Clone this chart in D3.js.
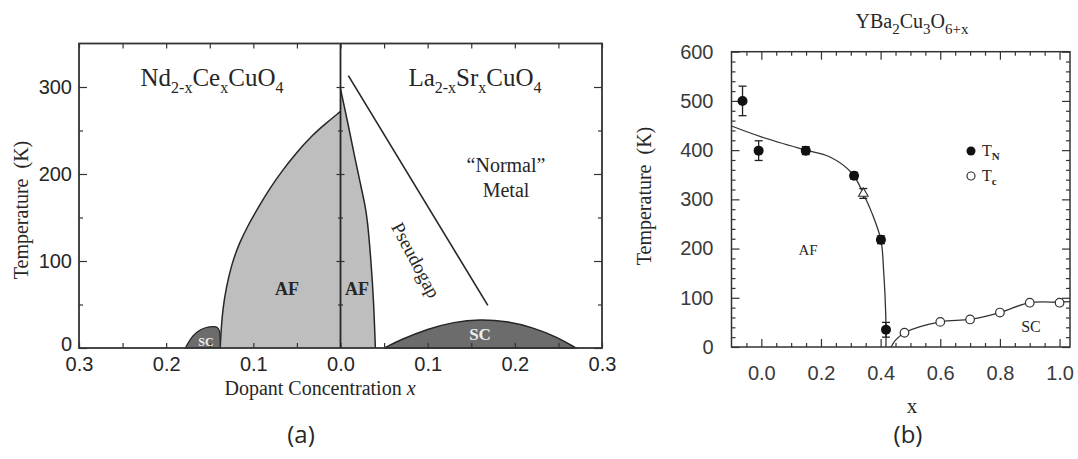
<!DOCTYPE html>
<html>
<head>
<meta charset="utf-8">
<script src="https://cdn.jsdelivr.net/npm/d3@7"></script>
<style>
	body { margin: 0; background: #fff; }
	svg { display: block; }
	.serif { font-family: "Liberation Serif", "DejaVu Serif", serif; }
	.sans { font-family: "Liberation Sans", "DejaVu Sans", sans-serif; }
	.tick line { stroke: #333; stroke-width: 1.2; }
</style>
</head>
<body>
<script>
// ---- Panel (a): phase boundaries (concentration x, temperature K) ----
const ndAfConc = [0.138, 0.137, 0.135, 0.131, 0.125, 0.116, 0.105, 0.093, 0.080, 0.066, 0.050, 0.034, 0.017, 0.0];
const ndAfTemp = [0, 21, 45, 70, 96, 121, 143, 164, 185, 205, 225, 243, 258, 272];
const ndScConc = [0.178, 0.172, 0.165, 0.155, 0.145, 0.138, 0.138];
const ndScTemp = [0, 11, 19, 24, 25, 24, 0];
const laAfConc = [0.0, 0.009, 0.017, 0.023, 0.028, 0.031, 0.035, 0.038, 0.040];
const laAfTemp = [298, 256, 216, 188, 165, 147, 100, 55, 0];
const laScConc = [0.05, 0.07, 0.10, 0.13, 0.16, 0.19, 0.22, 0.25, 0.27];
const laScTemp = [0, 10, 22, 30, 33, 31, 24, 12, 0];
const pseudoConc = [0.009, 0.169];
const pseudoTemp = [313, 49];
const aXTicks = [-0.3, -0.2, -0.1, 0, 0.1, 0.2, 0.3];
const aXMinor = [-0.25, -0.15, -0.05, 0.05, 0.15, 0.25];
const aYTicks = [0, 100, 200, 300];
const aYMinor = [50, 150, 250];

// ---- Panel (b): YBa2Cu3O6+x ----
const tnX = [-0.063, -0.009, 0.149, 0.311, 0.401, 0.418];
const tnT = [500, 399, 399, 348, 218, 35];
const tnErr = [30, 20, 8, 7, 8, 15];
const triX = [0.342];
const triT = [312];
const triErr = [10];
const tcX = [0.48, 0.6, 0.7, 0.8, 0.9, 1.0];
const tcT = [29, 51, 56, 70, 90, 90];
const tnLineX = [-0.1, 0.0, 0.15, 0.227, 0.304, 0.344, 0.371, 0.401, 0.41, 0.417, 0.418];
const tnLineT = [449, 427, 400, 387, 353, 309, 272, 217, 156, 69, 0];
const tcLineX = [0.435, 0.45, 0.48, 0.6, 0.7, 0.8, 0.9, 1.0, 1.035];
const tcLineT = [0, 14, 29, 51, 56, 70, 90, 91, 92];
const bXTicks = [0, 0.2, 0.4, 0.6, 0.8, 1.0];
const bYTicks = [0, 100, 200, 300, 400, 500, 600];

const W = 1078, H = 459;
const AF_FILL = '#bebebe', SC_FILL = '#6c6c6c', INK = '#262626';

const svg = d3.select('body').append('svg').attr('width', W).attr('height', H);

const zip = (xs, ys) => xs.map((x, i) => [x, ys[i]]);

// inward ticks, no labels
function tickAxis(g, axisFn, scale, values, size) {
	g.call(axisFn(scale).tickValues(values).tickSize(-size).tickFormat(''));
	g.select('.domain').remove();
	return g;
}

// formula text with subscripts: parts = [[text, isSub], ...]
function formula(parent, x, y, parts, size, subSize, shift) {
	const t = parent.append('text').attr('class', 'serif').attr('x', x).attr('y', y)
		.attr('text-anchor', 'middle').attr('fill', INK).style('font-size', size + 'px');
	let down = false;
	parts.forEach(([s, sub]) => {
		const ts = t.append('tspan').text(s).style('font-size', (sub ? subSize : size) + 'px');
		if (sub && !down) { ts.attr('dy', shift); down = true; }
		else if (!sub && down) { ts.attr('dy', -shift); down = false; }
	});
	return t;
}

// ================= Panel (a) =================
const xA = d3.scaleLinear().domain([-0.3, 0.3]).range([79, 602]);
const yA = d3.scaleLinear().domain([0, 350]).range([348, 43.5]);
const gA = svg.append('g');

const lineA = d3.line().x(d => xA(d[0])).y(d => yA(d[1])).curve(d3.curveBasis);
const neg = pts => pts.map(([c, t]) => [-c, t]);

// AF region, Nd side
const ndAf = neg(zip(ndAfConc, ndAfTemp));
gA.append('path')
	.attr('d', lineA(ndAf) + `L${xA(0)},${yA(0)}Z`)
	.attr('fill', AF_FILL).attr('stroke', 'none');
gA.append('path').attr('d', lineA(ndAf)).attr('fill', 'none').attr('stroke', INK).attr('stroke-width', 1.5);

// AF region, La side
const laAf = zip(laAfConc, laAfTemp);
gA.append('path')
	.attr('d', lineA(laAf) + `L${xA(0)},${yA(0)}Z`)
	.attr('fill', AF_FILL).attr('stroke', 'none');
gA.append('path').attr('d', lineA(laAf)).attr('fill', 'none').attr('stroke', INK).attr('stroke-width', 1.5);

// SC domes
gA.append('path').attr('d', lineA(neg(zip(ndScConc, ndScTemp))) + 'Z')
	.attr('fill', SC_FILL).attr('stroke', INK).attr('stroke-width', 1.2);
gA.append('path').attr('d', lineA(zip(laScConc, laScTemp)) + 'Z')
	.attr('fill', SC_FILL).attr('stroke', INK).attr('stroke-width', 1.5);

// pseudogap line
gA.append('path').attr('d', d3.line().x(d => xA(d[0])).y(d => yA(d[1]))(zip(pseudoConc, pseudoTemp)))
	.attr('fill', 'none').attr('stroke', INK).attr('stroke-width', 1.6);

// axes
const axA = gA.append('g').attr('class', 'serif');
const bottomA = axA.append('g').attr('transform', `translate(0,${yA(0)})`)
	.call(d3.axisBottom(xA).tickValues(aXTicks).tickSize(-5).tickPadding(9).tickFormat(d => Math.abs(d).toFixed(1)));
bottomA.select('.domain').remove();
bottomA.selectAll('text').style('font-size', '20px').attr('fill', INK);
tickAxis(axA.append('g').attr('transform', `translate(0,${yA(0)})`), d3.axisBottom, xA, aXMinor, 5);
tickAxis(axA.append('g').attr('transform', `translate(0,${yA(350)})`), d3.axisTop, xA, aXTicks.concat(aXMinor), 5);

const leftA = axA.append('g').attr('transform', `translate(${xA(-0.3)},0)`)
	.call(d3.axisLeft(yA).tickValues(aYTicks).tickSize(-8).tickPadding(7));
leftA.select('.domain').remove();
leftA.selectAll('text').style('font-size', '20px').attr('fill', INK)
	.attr('dy', d => d === 0 ? '0.12em' : '0.32em');
tickAxis(axA.append('g').attr('transform', `translate(${xA(-0.3)},0)`), d3.axisLeft, yA, aYMinor, 4);
tickAxis(axA.append('g').attr('transform', `translate(${xA(0.3)},0)`), d3.axisRight, yA, aYTicks, 8);
tickAxis(axA.append('g').attr('transform', `translate(${xA(0.3)},0)`), d3.axisRight, yA, aYMinor, 4);

// center line with ticks on both sides
gA.append('line').attr('x1', xA(0)).attr('x2', xA(0)).attr('y1', yA(0)).attr('y2', yA(350))
	.attr('stroke', INK).attr('stroke-width', 1.8);
[d3.axisLeft, d3.axisRight].forEach(fn => {
	tickAxis(gA.append('g').attr('transform', `translate(${xA(0)},0)`), fn, yA, [100, 200, 300], -4);
	tickAxis(gA.append('g').attr('transform', `translate(${xA(0)},0)`), fn, yA, aYMinor, -2.5);
});

// frame
gA.append('rect').attr('x', xA(-0.3)).attr('y', yA(350))
	.attr('width', xA(0.3) - xA(-0.3)).attr('height', yA(0) - yA(350))
	.attr('fill', 'none').attr('stroke', '#333').attr('stroke-width', 1.8);

// labels
formula(gA, 212, 86, [['Nd', 0], ['2-x', 1], ['Ce', 0], ['x', 1], ['CuO', 0], ['4', 1]], 25, 16, 7);
formula(gA, 475, 86, [['La', 0], ['2-x', 1], ['Sr', 0], ['x', 1], ['CuO', 0], ['4', 1]], 25, 16, 7);

const labA = (x, y, s, size, fill, extra) => {
	const t = gA.append('text').attr('class', 'serif').attr('x', x).attr('y', y)
		.attr('text-anchor', 'middle').attr('fill', fill).style('font-size', size + 'px').text(s);
	if (extra) extra(t);
	return t;
};
labA(506, 172, '\u201cNormal\u201d', 20, INK);
labA(506, 197, 'Metal', 20, INK);
labA(287, 295, 'AF', 18, INK, t => t.style('font-weight', 'bold'));
labA(357, 295, 'AF', 18, INK, t => t.style('font-weight', 'bold'));
labA(206, 346, 'SC', 12, '#eee', t => t.style('font-weight', 'bold'));
labA(480, 340, 'SC', 17, '#eee', t => t.style('font-weight', 'bold'));
labA(0, 0, 'Pseudogap', 19, INK, t => t.attr('transform', 'translate(416,260) rotate(62)').attr('dy', '0.35em'));

gA.append('text').attr('class', 'serif').attr('transform', 'translate(28,210) rotate(-90)')
	.attr('text-anchor', 'middle').attr('fill', INK).style('font-size', '20px')
	.text('Temperature\u00a0\u00a0(K)');
const xl = gA.append('text').attr('class', 'serif').attr('x', 320).attr('y', 395)
	.attr('text-anchor', 'middle').attr('fill', INK).style('font-size', '20px');
xl.append('tspan').text('Dopant Concentration ');
xl.append('tspan').style('font-style', 'italic').text('x');

// ================= Panel (b) =================
const xB = d3.scaleLinear().domain([-0.1, 1.035]).range([731.5, 1070]);
const yB = d3.scaleLinear().domain([0, 600]).range([347, 51.7]);
const gB = svg.append('g');

const axB = gB.append('g');
const bottomB = axB.append('g').attr('transform', `translate(0,${yB(0)})`)
	.call(d3.axisBottom(xB).tickValues(bXTicks).tickSize(-8).tickPadding(19).tickFormat(d3.format('.1f')));
bottomB.select('.domain').remove();
bottomB.selectAll('text').attr('class', 'sans').style('font-size', '20px').attr('fill', '#3a3a3a');
const bMinorX = d3.range(-0.05, 1.03, 0.05).filter(v => Math.abs(v * 5 - Math.round(v * 5)) > 1e-6);
tickAxis(axB.append('g').attr('transform', `translate(0,${yB(0)})`), d3.axisBottom, xB, bMinorX, 4);
tickAxis(axB.append('g').attr('transform', `translate(0,${yB(600)})`), d3.axisTop, xB, bXTicks, 8);
tickAxis(axB.append('g').attr('transform', `translate(0,${yB(600)})`), d3.axisTop, xB, bMinorX, 4);

const leftB = axB.append('g').attr('transform', `translate(${xB(-0.1)},0)`)
	.call(d3.axisLeft(yB).tickValues(bYTicks).tickSize(-8).tickPadding(18));
leftB.select('.domain').remove();
leftB.selectAll('text').attr('class', 'sans').style('font-size', '20px').attr('fill', '#3a3a3a');
const bMinorY = d3.range(20, 600, 20).filter(v => v % 100 !== 0);
tickAxis(axB.append('g').attr('transform', `translate(${xB(-0.1)},0)`), d3.axisLeft, yB, bMinorY, 4);
tickAxis(axB.append('g').attr('transform', `translate(${xB(1.035)},0)`), d3.axisRight, yB, bYTicks, 8);
tickAxis(axB.append('g').attr('transform', `translate(${xB(1.035)},0)`), d3.axisRight, yB, bMinorY, 4);

gB.append('rect').attr('x', xB(-0.1)).attr('y', yB(600))
	.attr('width', xB(1.035) - xB(-0.1)).attr('height', yB(0) - yB(600))
	.attr('fill', 'none').attr('stroke', '#333').attr('stroke-width', 1.5);

// curves
const lineB = d3.line().x(d => xB(d[0])).y(d => yB(d[1])).curve(d3.curveCatmullRom.alpha(0.5));
gB.append('path').attr('d', lineB(zip(tnLineX, tnLineT))).attr('fill', 'none').attr('stroke', '#333').attr('stroke-width', 1.3);
gB.append('path').attr('d', lineB(zip(tcLineX, tcLineT))).attr('fill', 'none').attr('stroke', '#333').attr('stroke-width', 1.3);

// error bars
const errBar = (x, t, e) => {
	const g = gB.append('g').attr('stroke', '#222').attr('stroke-width', 1.3);
	g.append('line').attr('x1', xB(x)).attr('x2', xB(x)).attr('y1', yB(t - e)).attr('y2', yB(t + e));
	[t - e, t + e].forEach(v => g.append('line').attr('x1', xB(x) - 4).attr('x2', xB(x) + 4).attr('y1', yB(v)).attr('y2', yB(v)));
};
tnX.forEach((x, i) => errBar(x, tnT[i], tnErr[i]));
triX.forEach((x, i) => errBar(x, triT[i], triErr[i]));

gB.selectAll('.tn').data(zip(tnX, tnT)).join('circle').attr('class', 'tn')
	.attr('cx', d => xB(d[0])).attr('cy', d => yB(d[1])).attr('r', 5).attr('fill', '#111');
gB.selectAll('.tri').data(zip(triX, triT)).join('path').attr('class', 'tri')
	.attr('transform', d => `translate(${xB(d[0])},${yB(d[1])})`)
	.attr('d', d3.symbol(d3.symbolTriangle, 40)).attr('fill', '#fff').attr('stroke', '#333').attr('stroke-width', 1.1);
gB.selectAll('.tc').data(zip(tcX, tcT)).join('circle').attr('class', 'tc')
	.attr('cx', d => xB(d[0])).attr('cy', d => yB(d[1])).attr('r', 4.3)
	.attr('fill', '#fff').attr('stroke', '#333').attr('stroke-width', 1.2);

// legend
gB.append('circle').attr('cx', 971).attr('cy', 151).attr('r', 4.5).attr('fill', '#111');
gB.append('circle').attr('cx', 971).attr('cy', 176).attr('r', 4).attr('fill', '#fff').attr('stroke', '#333').attr('stroke-width', 1.2);
const legText = (y, sub) => {
	const t = gB.append('text').attr('class', 'serif').attr('x', 982).attr('y', y).attr('fill', INK).style('font-size', '16px');
	t.append('tspan').text('T');
	t.append('tspan').attr('dy', 4).style('font-size', '11px').style('font-weight', 'bold').text(sub);
};
legText(156, 'N');
legText(181, 'c');

// labels
const labB = (x, y, s, size) => gB.append('text').attr('class', 'serif').attr('x', x).attr('y', y)
	.attr('text-anchor', 'middle').attr('fill', INK).style('font-size', size + 'px').text(s);
labB(808, 255, 'AF', 15);
labB(1031, 332, 'SC', 16);
labB(912, 413, 'x', 21);
formula(gB, 912, 28, [['YBa', 0], ['2', 1], ['Cu', 0], ['3', 1], ['O', 0], ['6+x', 1]], 20, 15, 6);
gB.append('text').attr('class', 'serif').attr('transform', 'translate(651,196) rotate(-90)')
	.attr('text-anchor', 'middle').attr('fill', INK).style('font-size', '20px')
	.text('Temperature\u00a0\u00a0(K)');

// panel captions
[['(a)', 301], ['(b)', 908]].forEach(([s, x]) => {
	svg.append('text').attr('x', x).attr('y', 443).attr('text-anchor', 'middle')
		.style('font-family', '"Open Sans", "Noto Sans", sans-serif').style('font-size', '24px')
		.attr('fill', INK).text(s);
});
</script>
</body>
</html>
